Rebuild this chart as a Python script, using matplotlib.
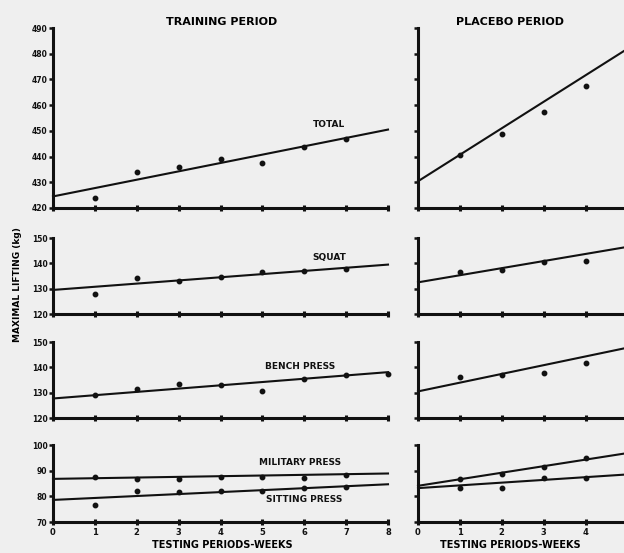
import matplotlib
matplotlib.use("Agg")
import matplotlib.pyplot as plt
import numpy as np

# ---------------- data ----------------
weeks_train_ticks = [0, 1, 2, 3, 4, 5, 6, 7, 8]
weeks_placebo_ticks = [0, 1, 2, 3, 4]

# Training period points
total_train_w = [1, 2, 3, 4, 5, 6, 7]
total_train = [423.9, 433.9, 435.8, 438.9, 437.4, 443.6, 446.7]
total_train_fit = [424.5, 450.5]          # line value at week 0 and week 8

squat_train_w = [1, 2, 3, 4, 5, 6, 7]
squat_train = [127.9, 134.2, 133.1, 134.5, 136.4, 136.8, 137.8]
squat_train_fit = [129.5, 139.5]

bench_train_w = [1, 2, 3, 4, 5, 6, 7, 8]
bench_train = [129.2, 131.5, 133.5, 133.1, 130.8, 135.5, 136.8, 137.2]
bench_train_fit = [127.7, 138.1]

military_train_w = [1, 2, 3, 4, 5, 6, 7]
military_train = [87.5, 86.6, 86.6, 87.5, 87.5, 87.2, 88.5]
military_train_fit = [86.8, 88.9]

sitting_train_w = [1, 2, 3, 4, 5, 6, 7]
sitting_train = [76.8, 81.9, 81.5, 81.9, 82.2, 83.2, 83.7]
sitting_train_fit = [78.6, 84.7]

# Placebo period points
total_plac_w = [1, 2, 3, 4]
total_plac = [440.7, 448.6, 457.2, 467.3]
total_plac_fit = [430.4, 492.2]           # line value at week 0 and week 6

squat_plac_w = [1, 2, 3, 4, 5]
squat_plac = [136.5, 137.5, 140.4, 140.8, 148.5]
squat_plac_fit = [132.5, 149.3]

bench_plac_w = [1, 2, 3, 4, 5]
bench_plac = [136.1, 137.1, 137.7, 141.7, 151.5]
bench_plac_fit = [130.5, 151.2]

military_plac_w = [1, 2, 3, 4]
military_plac = [86.6, 88.7, 91.6, 95.1]
military_plac_fit = [84.1, 99.4]

sitting_plac_w = [1, 2, 3, 4]
sitting_plac = [83.2, 83.4, 87.2, 87.2]
sitting_plac_fit = [83.2, 89.6]

total_ticks = [420, 430, 440, 450, 460, 470, 480, 490]
squat_ticks = [120, 130, 140, 150]
bench_ticks = [120, 130, 140, 150]
press_ticks = [70, 80, 90, 100]

titles = ["TRAINING PERIOD", "PLACEBO PERIOD"]
ylabel = "MAXIMAL LIFTING (kg)"
xlabel = "TESTING PERIODS-WEEKS"

# ---------------- layout ----------------
W, H = 624, 553
BG = "#efefef"
fig = plt.figure(figsize=(W / 100, H / 100), dpi=100, facecolor=BG)

def rect(x0, x1, ytop, ybot):
    return [x0 / W, 1 - ybot / H, (x1 - x0) / W, (ybot - ytop) / H]

rows = [  # (ytop, ybot, ylim, ticks)
    (28, 208, (420, 490), total_ticks),
    (238, 314, (120, 150), squat_ticks),
    (342, 418, (120, 150), bench_ticks),
    (445, 522, (70, 100), press_ticks),
]

def style(ax, ylim, ticks, xticks, show_ylabels, show_xlabels):
    ax.set_facecolor("none")
    ax.set_xlim(0, 8)
    ax.set_ylim(*ylim)
    for s in ["top", "right"]:
        ax.spines[s].set_visible(False)
    for s in ["left", "bottom"]:
        ax.spines[s].set_linewidth(2.2)
        ax.spines[s].set_color("#111111")
    ax.set_yticks(ticks)
    ax.set_xticks(xticks)
    ax.tick_params(axis="y", direction="out", length=3, width=1.8, pad=1,
                   labelsize=5.5, labelleft=show_ylabels, colors="#111111")
    ax.tick_params(axis="x", direction="inout", length=4, width=2.2, pad=2,
                   labelsize=6, labelbottom=show_xlabels, colors="#111111")
    for lab in ax.get_yticklabels() + ax.get_xticklabels():
        lab.set_fontweight("bold")

def draw(ax, w, vals, fit, xend):
    ax.plot([0, xend], fit, color="#111111", lw=1.5, clip_on=False)
    ax.plot(w, vals, "o", color="#111111", ms=3.2, clip_on=False)

train_axes = []
plac_axes = []
for i, (yt, yb, ylim, ticks) in enumerate(rows):
    a = fig.add_axes(rect(53, 388, yt, yb))
    style(a, ylim, ticks, weeks_train_ticks, True, i == 3)
    train_axes.append(a)
    b = fig.add_axes(rect(418, 418 + 335, yt, yb))
    style(b, ylim, ticks, weeks_placebo_ticks, False, i == 3)
    plac_axes.append(b)

# training
draw(train_axes[0], total_train_w, total_train, total_train_fit, 8)
draw(train_axes[1], squat_train_w, squat_train, squat_train_fit, 8)
draw(train_axes[2], bench_train_w, bench_train, bench_train_fit, 8)
draw(train_axes[3], military_train_w, military_train, military_train_fit, 8)
draw(train_axes[3], sitting_train_w, sitting_train, sitting_train_fit, 8)

# placebo
draw(plac_axes[0], total_plac_w, total_plac, total_plac_fit, 6)
draw(plac_axes[1], squat_plac_w, squat_plac, squat_plac_fit, 6)
draw(plac_axes[2], bench_plac_w, bench_plac, bench_plac_fit, 6)
draw(plac_axes[3], military_plac_w, military_plac, military_plac_fit, 6)
draw(plac_axes[3], sitting_plac_w, sitting_plac, sitting_plac_fit, 6)

lab_kw = dict(fontsize=6.5, fontweight="bold", color="#111111", ha="center", va="center")
train_axes[0].text(6.6, 452.5, "TOTAL", **lab_kw)
train_axes[1].text(6.6, 142.3, "SQUAT", **lab_kw)
train_axes[2].text(5.9, 140.3, "BENCH PRESS", **lab_kw)
train_axes[3].text(5.9, 93.0, "MILITARY PRESS", **lab_kw)
train_axes[3].text(6.0, 78.6, "SITTING PRESS", **lab_kw)

fig.text(222 / W, 1 - 22 / H, titles[0], fontsize=8, fontweight="bold", ha="center", va="center")
fig.text(510 / W, 1 - 22 / H, titles[1], fontsize=8, fontweight="bold", ha="center", va="center")
fig.text(222 / W, 1 - 545 / H, xlabel, fontsize=7, fontweight="bold", ha="center", va="center")
fig.text(510 / W, 1 - 545 / H, xlabel, fontsize=7, fontweight="bold", ha="center", va="center")
fig.text(18 / W, 1 - 285 / H, ylabel, fontsize=6.5, fontweight="bold", rotation=90,
         ha="center", va="center")

fig.savefig("out.png", dpi=100, facecolor=BG)
